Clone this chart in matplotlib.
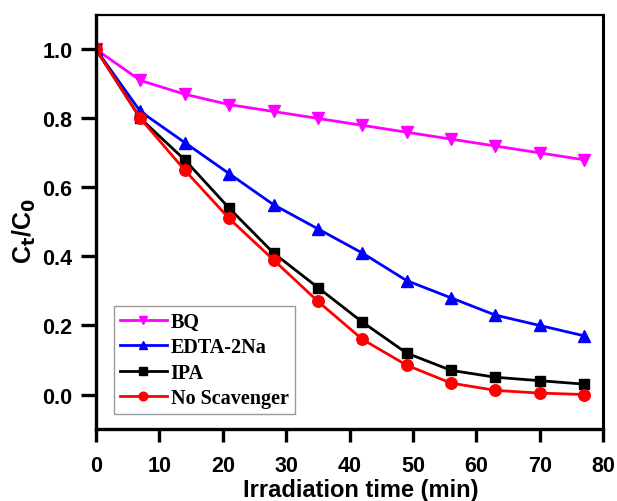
import numpy as np
import matplotlib.pyplot as plt

# irradiation time (min)
time = [0, 7, 14, 21, 28, 35, 42, 49, 56, 63, 70, 77]

bq = [1.0, 0.91, 0.87, 0.84, 0.82, 0.80, 0.78, 0.76, 0.74, 0.72, 0.70, 0.68]
edta = [1.0, 0.82, 0.73, 0.64, 0.55, 0.48, 0.41, 0.33, 0.28, 0.23, 0.20, 0.17]
ipa = [1.0, 0.80, 0.68, 0.54, 0.41, 0.31, 0.21, 0.12, 0.07, 0.05, 0.04, 0.03]
no_scav = [1.0, 0.80, 0.65, 0.51, 0.39, 0.27, 0.16, 0.085, 0.033, 0.012, 0.004, 0.0]

fig = plt.figure(figsize=(6.17, 5.02), dpi=100)
ax = fig.add_axes([0.1556, 0.1434, 0.822, 0.825])

ax.plot(time, bq, color="#ff00ff", marker="v", ms=8.5, lw=2.0, label="BQ")
ax.plot(time, edta, color="#0000ff", marker="^", ms=8.5, lw=2.0, label="EDTA-2Na")
ax.plot(time, ipa, color="black", marker="s", ms=7.2, lw=2.0, label="IPA")
ax.plot(time, no_scav, color="#ff0000", marker="o", ms=8.3, lw=2.0, label="No Scavenger")

ax.set_xlim(0, 80)
ax.set_ylim(-0.1, 1.1)
ax.set_xticks(np.arange(0, 81, 10))
ax.set_yticks(np.arange(0, 1.01, 0.2))
ax.yaxis.set_major_formatter(plt.FormatStrFormatter("%.1f"))

for side in ["left", "bottom"]:
    ax.spines[side].set_linewidth(2.4)
ax.spines["right"].set_linewidth(2.2)
ax.spines["top"].set_linewidth(1.6)

ax.tick_params(axis="x", direction="out", length=9.5, width=2.4, top=False, pad=9)
ax.tick_params(axis="y", direction="out", length=11, width=2.4, right=False, pad=6)
for lab in ax.get_xticklabels() + ax.get_yticklabels():
    lab.set_fontfamily("Liberation Sans")
    lab.set_fontweight("bold")
    lab.set_fontsize(15.5)

ax.set_xlabel("Irradiation time (min)", fontfamily="Liberation Sans", fontweight="bold",
              fontsize=17, va="top")
ax.xaxis.set_label_coords(0.522, -0.118)
ax.set_ylabel(r"C$_\mathbf{t}$/C$_\mathbf{0}$", fontfamily="Liberation Sans", fontweight="bold",
              fontsize=18, va="center")
ax.yaxis.set_label_coords(-0.142, 0.48)

leg = ax.legend(loc="lower left", bbox_to_anchor=(0.024, 0.022),
                prop={"family": "Liberation Serif", "weight": "bold", "size": 14.5},
                frameon=True, fancybox=False, edgecolor="gray", handlelength=2.3,
                handletextpad=0.2, borderpad=0.3, labelspacing=0.26, borderaxespad=0.3,
                markerscale=0.75)
leg.get_frame().set_linewidth(1.0)

fig.savefig("out.png", dpi=100)
